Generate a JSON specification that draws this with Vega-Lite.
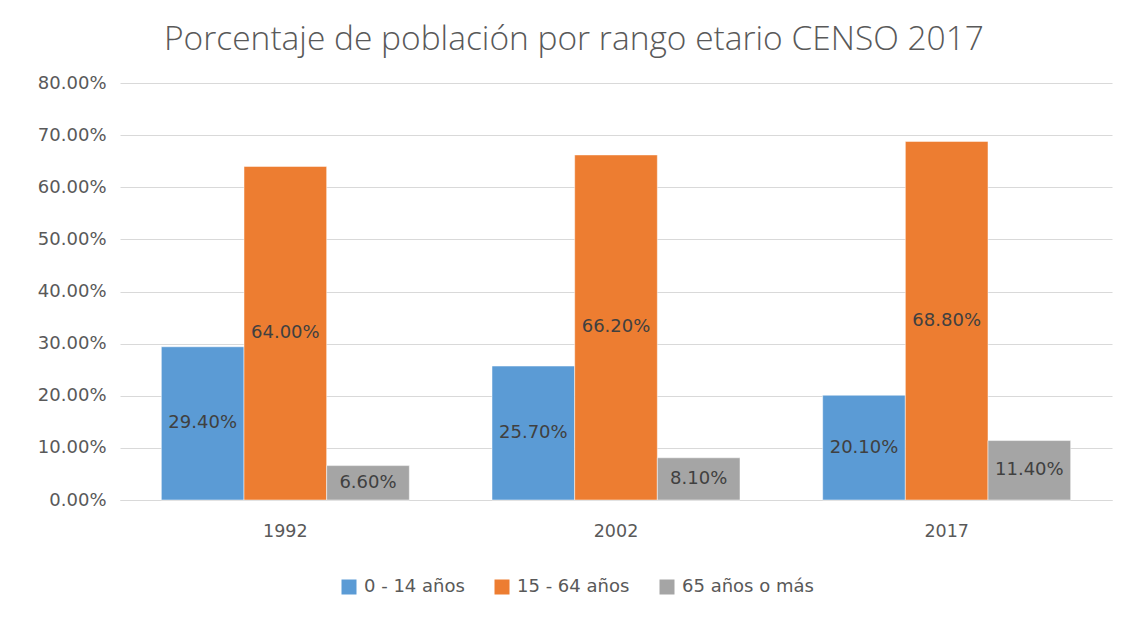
{
  "$schema": "https://vega.github.io/schema/vega-lite/v6.json",
  "autosize": {"type": "none"},
  "width": 992,
  "height": 417,
  "padding": {"left": 120, "top": 83, "right": 12, "bottom": 119},
  "background": "white",
  "title": {
    "text": "Porcentaje de población por rango etario CENSO 2017",
    "font": "Open Sans",
    "fontWeight": 300,
    "fontSize": 33.5,
    "color": "#595959",
    "anchor": "middle",
    "dx": -42,
    "offset": 17
  },
  "data": {
    "values": [
      {"anio": "1992", "grupo": "0 - 14 años", "v": 0.294},
      {"anio": "1992", "grupo": "15 - 64 años", "v": 0.64},
      {"anio": "1992", "grupo": "65 años o más", "v": 0.066},
      {"anio": "2002", "grupo": "0 - 14 años", "v": 0.257},
      {"anio": "2002", "grupo": "15 - 64 años", "v": 0.662},
      {"anio": "2002", "grupo": "65 años o más", "v": 0.081},
      {"anio": "2017", "grupo": "0 - 14 años", "v": 0.201},
      {"anio": "2017", "grupo": "15 - 64 años", "v": 0.688},
      {"anio": "2017", "grupo": "65 años o más", "v": 0.114}
    ]
  },
  "encoding": {
    "x": {
      "field": "anio", "type": "nominal",
      "scale": {"paddingInner": 0.25, "paddingOuter": 0.125},
      "axis": {
        "title": null, "labelAngle": 0, "ticks": false, "domain": true,
        "domainColor": "#D9D9D9", "labelFont": "DejaVu Sans", "labelFontSize": 17.5,
        "labelColor": "#595959", "labelPadding": 22
      }
    },
    "xOffset": {
      "field": "grupo", "type": "nominal",
      "scale": {"paddingInner": 0, "paddingOuter": 0}
    }
  },
  "layer": [
    {
      "mark": {"type": "bar", "stroke": "white", "strokeWidth": 0.5},
      "encoding": {
        "y": {
          "field": "v", "type": "quantitative",
          "scale": {"domain": [0, 0.8], "nice": false},
          "axis": {
            "title": null, "format": ".2%", "values": [0, 0.1, 0.2, 0.3, 0.4, 0.5, 0.6, 0.7, 0.8],
            "labelOverlap": false,
            "domain": false, "ticks": false, "gridColor": "#D9D9D9", "gridWidth": 1,
            "labelFont": "DejaVu Sans", "labelFontSize": 18, "labelColor": "#595959", "labelPadding": 14
          }
        },
        "color": {
          "field": "grupo", "type": "nominal",
          "scale": {
            "domain": ["0 - 14 años", "15 - 64 años", "65 años o más"],
            "range": ["#5B9BD5", "#ED7D31", "#A5A5A5"]
          },
          "legend": {
            "title": null, "orient": "none", "direction": "horizontal",
            "legendX": 220, "legendY": 495,
            "symbolType": "square", "symbolSize": 225, "symbolStrokeWidth": 0,
            "labelFont": "DejaVu Sans", "labelFontSize": 18, "labelColor": "#595959",
            "columnPadding": 28, "labelOffset": 6
          }
        }
      }
    },
    {
      "transform": [{"calculate": "datum.v / 2", "as": "mid"}],
      "mark": {"type": "text", "font": "DejaVu Sans", "fontSize": 18, "color": "#404040", "baseline": "middle", "align": "center"},
      "encoding": {
        "y": {"field": "mid", "type": "quantitative", "scale": {"domain": [0, 0.8], "nice": false}},
        "text": {"field": "v", "type": "quantitative", "format": ".2%"}
      }
    }
  ],
  "config": {"view": {"stroke": null}}
}
